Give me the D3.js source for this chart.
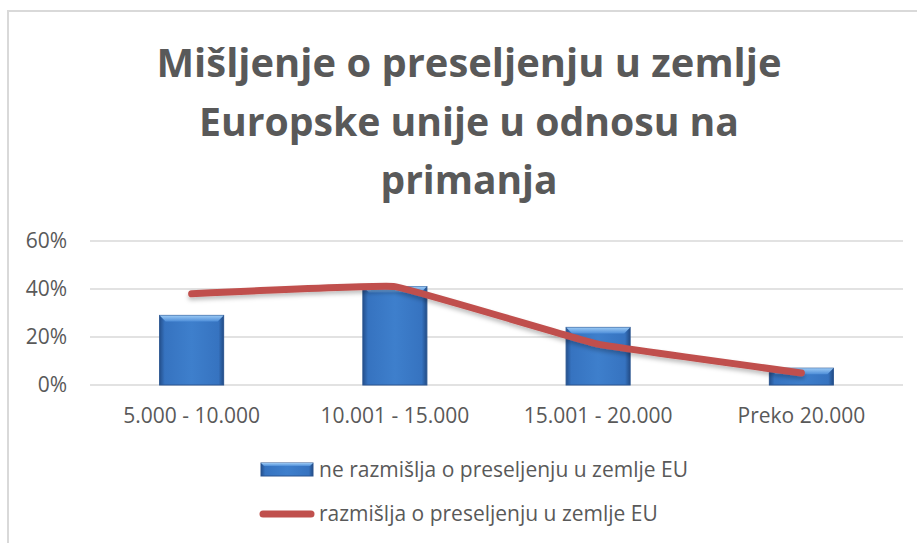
<!DOCTYPE html>
<html>
<head>
<meta charset="utf-8">
<script src="https://cdn.jsdelivr.net/npm/d3@7"></script>
<style>
  body { margin: 0; background: #fff; }
  text { font-family: "Open Sans", sans-serif; fill: #595959; }
</style>
</head>
<body>
<svg width="917" height="543"></svg>
<script>
// Data
const categories = ["5.000 - 10.000", "10.001 - 15.000", "15.001 - 20.000", "Preko 20.000"];
const barValues = [29, 41, 24, 7];    // ne razmišlja (%)
const lineValues = [38, 41, 17, 5];   // razmišlja (%)
const yTicks = [0, 20, 40, 60];
const seriesNames = ["ne razmišlja o preseljenju u zemlje EU", "razmišlja o preseljenju u zemlje EU"];
const titleLines = ["Mišljenje o preseljenju u zemlje", "Europske unije u odnosu na", "primanja"];

const svg = d3.select("svg");

// defs: gradients + shadow
const defs = svg.append("defs");
const g1 = defs.append("linearGradient").attr("id", "barGrad").attr("x1", 0).attr("x2", 1).attr("y1", 0).attr("y2", 0);
[[0, "#24508d"], [0.08, "#3673c0"], [0.5, "#3e7fcc"], [0.92, "#3673c0"], [1, "#224c86"]]
  .forEach(s => g1.append("stop").attr("offset", s[0]).attr("stop-color", s[1]));
const g2 = defs.append("linearGradient").attr("id", "bevelGrad").attr("x1", 0).attr("x2", 0).attr("y1", 0).attr("y2", 1);
[[0, "#9ccaf5"], [1, "#4f8fd9"]].forEach(s => g2.append("stop").attr("offset", s[0]).attr("stop-color", s[1]));
defs.append("filter").attr("id", "shadow").attr("x", "-10%").attr("y", "-50%").attr("width", "120%").attr("height", "200%")
  .append("feDropShadow").attr("dx", 0).attr("dy", 3).attr("stdDeviation", 2)
  .attr("flood-color", "#000").attr("flood-opacity", 0.25);

// chart border
svg.append("rect").attr("x", 8).attr("y", 11).attr("width", 930).attr("height", 560)
  .attr("fill", "none").attr("stroke", "#d9d9d9").attr("stroke-width", 2);

// title
const titleW = [625, 540, 177];
svg.append("g").selectAll("text").data(titleLines).join("text")
  .attr("x", 469)
  .attr("y", (d, i) => 77 + i * 58.5)
  .attr("text-anchor", "middle")
  .attr("font-size", 40)
  .attr("font-weight", "bold")
  .attr("textLength", (d, i) => titleW[i])
  .attr("lengthAdjust", "spacingAndGlyphs")
  .text(d => d);

// scales
const x = d3.scaleBand().domain(categories).range([90, 903]).padding(0);
const y = d3.scaleLinear().domain([0, 60]).range([385, 241]);
const barW = x.bandwidth() * 0.315;
const cx = d => x(d) + x.bandwidth() / 2;

// grid
svg.append("g").selectAll("line").data(yTicks).join("line")
  .attr("x1", 90).attr("x2", 903)
  .attr("y1", d => y(d)).attr("y2", d => y(d))
  .attr("stroke", "#d9d9d9").attr("stroke-width", 1.5);

// y axis labels
const yAxis = svg.append("g").attr("transform", "translate(67,0)")
  .call(d3.axisLeft(y).tickValues(yTicks).tickFormat(d => d + "%").tickSize(0).tickPadding(0));
yAxis.select(".domain").remove();
yAxis.selectAll("text").attr("font-size", 21).attr("fill", "#595959").attr("font-family", "Open Sans");

// x axis labels
const xAxis = svg.append("g").attr("transform", "translate(0,385)")
  .call(d3.axisBottom(x).tickSize(0).tickPadding(23));
xAxis.select(".domain").remove();
xAxis.selectAll("text").attr("font-size", 21).attr("fill", "#595959").attr("font-family", "Open Sans");

// bars
const bars = svg.append("g").selectAll("g").data(categories).join("g");
bars.append("rect")
  .attr("x", d => cx(d) - barW / 2)
  .attr("y", (d, i) => y(barValues[i]))
  .attr("width", barW)
  .attr("height", (d, i) => y(0) - y(barValues[i]))
  .attr("fill", "url(#barGrad)")
  .attr("stroke", "#2a5590").attr("stroke-width", 1);
bars.append("path")
  .attr("d", (d, i) => {
    const x0 = cx(d) - barW / 2, x1 = cx(d) + barW / 2, t = y(barValues[i]), b = 6;
    return `M${x0},${t}L${x1},${t}L${x1 - b},${t + b}L${x0 + b},${t + b}Z`;
  })
  .attr("fill", "url(#bevelGrad)");

// line
const line = d3.line()
  .x((d, i) => cx(categories[i]))
  .y(d => y(d))
  .curve(d3.curveCardinal.tension(0.8));
svg.append("path").datum(lineValues)
  .attr("d", line)
  .attr("fill", "none")
  .attr("stroke", "#c0504d")
  .attr("stroke-width", 7)
  .attr("stroke-linecap", "round")
  .attr("stroke-linejoin", "round")
  .attr("filter", "url(#shadow)");

// legend
const leg = svg.append("g");
leg.append("rect").attr("x", 261).attr("y", 463).attr("width", 52).attr("height", 13)
  .attr("fill", "url(#barGrad)").attr("stroke", "#2a5590").attr("stroke-width", 1);
leg.append("path").attr("d", "M261,463L313,463L310,466L264,466Z").attr("fill", "url(#bevelGrad)");
leg.append("line").attr("x1", 263).attr("x2", 311).attr("y1", 514).attr("y2", 514)
  .attr("stroke", "#c0504d").attr("stroke-width", 7).attr("stroke-linecap", "round");
leg.selectAll("text").data(seriesNames).join("text")
  .attr("x", 319)
  .attr("y", (d, i) => 470 + i * 44)
  .attr("dy", "0.35em")
  .attr("font-size", 21)
  .text(d => d);
</script>
</body>
</html>
